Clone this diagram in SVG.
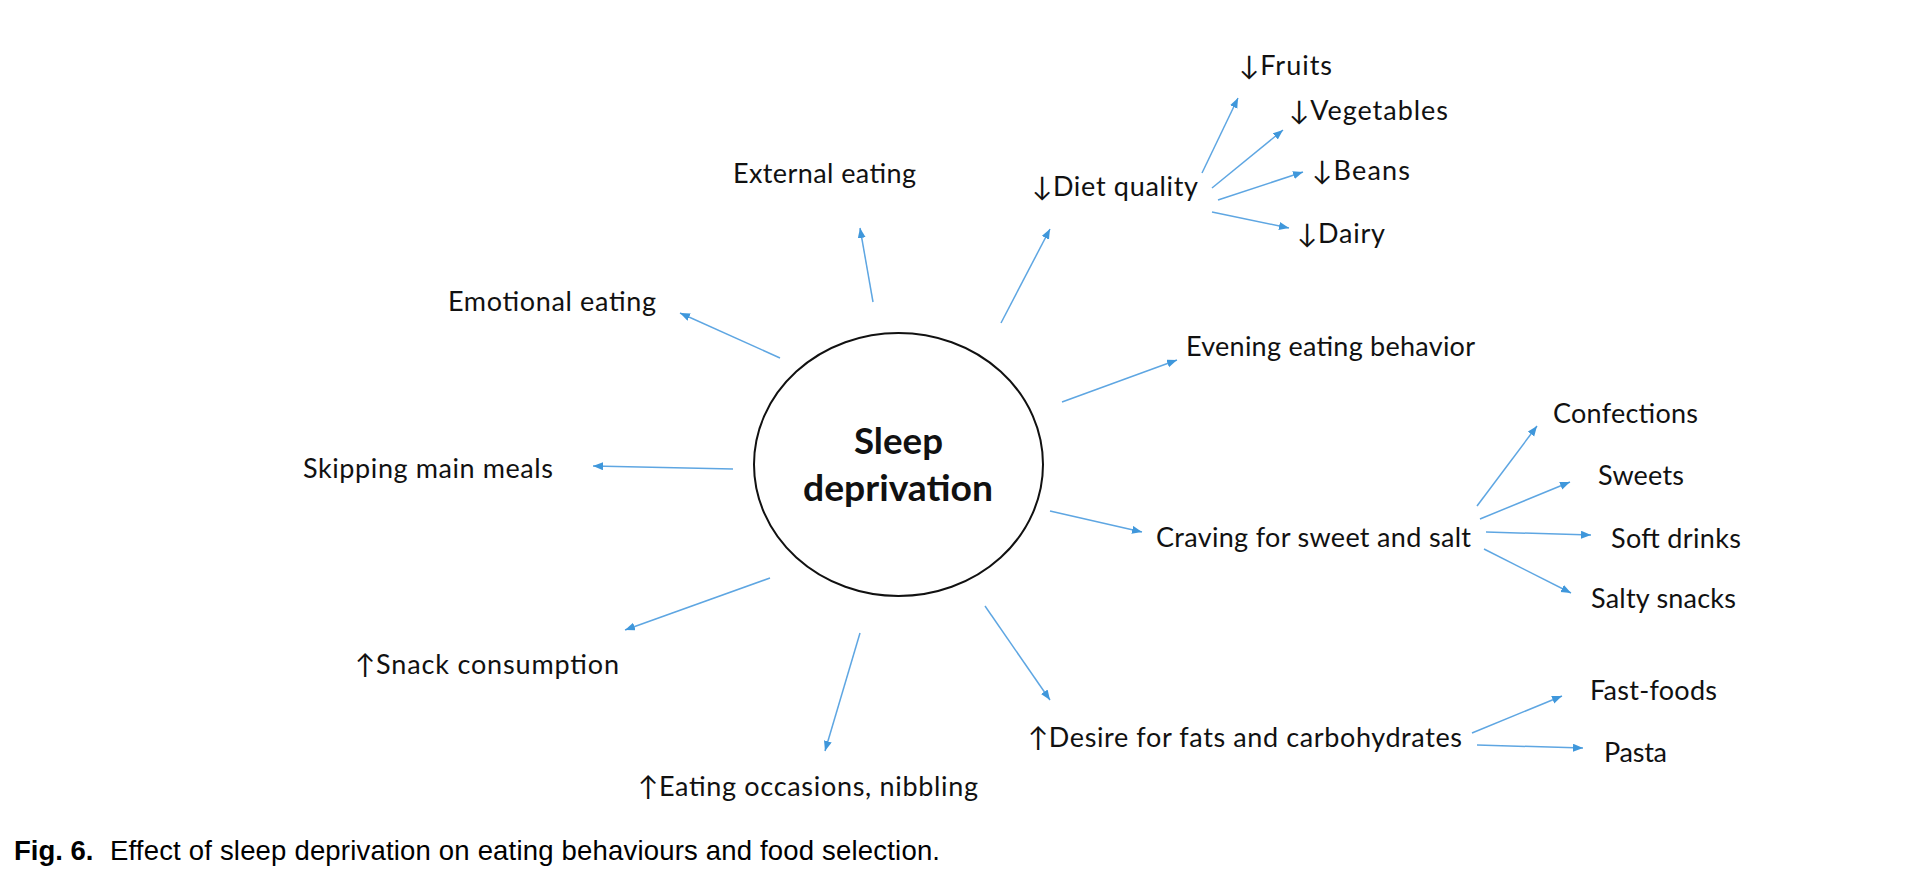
<svg xmlns="http://www.w3.org/2000/svg" width="1912" height="892" viewBox="0 0 1912 892">
<style>
.lbl{font-family:Lato,"Open Sans","Noto Sans","DejaVu Sans",sans-serif;font-size:27px;fill:#111}
.ctr{font-family:Lato,"Open Sans","Noto Sans",sans-serif;font-size:36px;font-weight:bold;fill:#111}
.cap{font-family:"Liberation Sans",Arial,sans-serif;font-size:27.5px;fill:#000}
.cn line{stroke:#5ea6e2;stroke-width:1.5;marker-end:url(#ah)}
</style>
<defs>
<marker id="ah" markerUnits="userSpaceOnUse" markerWidth="11" markerHeight="9" refX="10" refY="4" orient="auto" viewBox="0 0 11 9">
<path d="M0,0 L10,4 L0,8 Z" fill="#3f97db"/>
</marker>
</defs>
<rect width="1912" height="892" fill="#fff"/>
<g id="center">
<ellipse cx="898.5" cy="464.5" rx="144.5" ry="131.5" fill="#fff" stroke="#111" stroke-width="2"/>
<text class="ctr" x="854" y="454" textLength="89" lengthAdjust="spacingAndGlyphs">Sleep</text>
<text class="ctr" x="803" y="501" textLength="190" lengthAdjust="spacingAndGlyphs">deprivation</text>
</g>
<g class="cn" id="connectors">
<line x1="873" y1="302" x2="860" y2="228"/>
<line x1="1001" y1="323" x2="1050" y2="229"/>
<line x1="1202" y1="173" x2="1238" y2="98"/>
<line x1="1212" y1="188" x2="1283" y2="130"/>
<line x1="1218" y1="200" x2="1303" y2="172"/>
<line x1="1212" y1="212" x2="1289" y2="228"/>
<line x1="780" y1="358" x2="680" y2="313"/>
<line x1="1062" y1="402" x2="1177" y2="360"/>
<line x1="733" y1="469" x2="593" y2="466"/>
<line x1="1050" y1="511" x2="1142" y2="532"/>
<line x1="1477" y1="506" x2="1537" y2="426"/>
<line x1="1480" y1="519" x2="1570" y2="482"/>
<line x1="1486" y1="532" x2="1591" y2="535"/>
<line x1="1484" y1="549" x2="1571" y2="593"/>
<line x1="770" y1="578" x2="625" y2="630"/>
<line x1="985" y1="606" x2="1050" y2="700"/>
<line x1="1472" y1="733" x2="1562" y2="696"/>
<line x1="1477" y1="745" x2="1583" y2="748"/>
<line x1="860" y1="633" x2="825" y2="751"/>
</g>
<g id="external"><text class="lbl" x="733" y="183" textLength="183">External eating</text></g>
<g id="diet"><text class="lbl" x="1032" y="196" textLength="166">↓Diet quality</text></g>
<g id="fruits"><text class="lbl" x="1239" y="75" textLength="93">↓Fruits</text></g>
<g id="vegetables"><text class="lbl" x="1289" y="120" textLength="159">↓Vegetables</text></g>
<g id="beans"><text class="lbl" x="1312" y="180" textLength="98">↓Beans</text></g>
<g id="dairy"><text class="lbl" x="1297" y="243" textLength="88">↓Dairy</text></g>
<g id="emotional"><text class="lbl" x="448" y="311" textLength="208">Emotional eating</text></g>
<g id="evening"><text class="lbl" x="1186" y="356" textLength="289">Evening eating behavior</text></g>
<g id="skipping"><text class="lbl" x="303" y="478" textLength="250">Skipping main meals</text></g>
<g id="craving"><text class="lbl" x="1156" y="547" textLength="315">Craving for sweet and salt</text></g>
<g id="confections"><text class="lbl" x="1553" y="423" textLength="145">Confections</text></g>
<g id="sweets"><text class="lbl" x="1598" y="485" textLength="86">Sweets</text></g>
<g id="softdrinks"><text class="lbl" x="1611" y="548" textLength="130">Soft drinks</text></g>
<g id="salty"><text class="lbl" x="1591" y="608" textLength="145">Salty snacks</text></g>
<g id="snack"><text class="lbl" x="355" y="674" textLength="264">↑Snack consumption</text></g>
<g id="desire"><text class="lbl" x="1028" y="747" textLength="434">↑Desire for fats and carbohydrates</text></g>
<g id="fastfoods"><text class="lbl" x="1590" y="700" textLength="127">Fast-foods</text></g>
<g id="pasta"><text class="lbl" x="1604" y="762" textLength="63">Pasta</text></g>
<g id="occasions"><text class="lbl" x="638" y="796" textLength="340">↑Eating occasions, nibbling</text></g>
<g id="caption">
<text class="cap" x="14" y="860" font-weight="bold">Fig. 6.</text>
<text class="cap" x="110" y="860" textLength="830">Effect of sleep deprivation on eating behaviours and food selection.</text>
</g>
</svg>
